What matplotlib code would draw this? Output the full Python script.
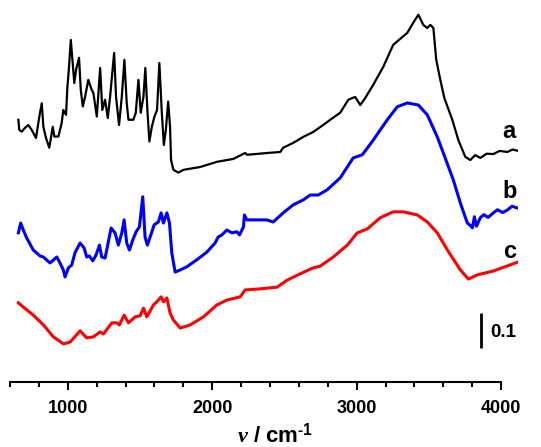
import matplotlib
matplotlib.use("Agg")
import matplotlib.pyplot as plt

plt.rcParams['font.family'] = ['Liberation Sans', 'DejaVu Sans']
plt.rcParams['mathtext.fontset'] = 'custom'
plt.rcParams['mathtext.it'] = 'Liberation Serif:italic:bold'
plt.rcParams['mathtext.rm'] = 'Liberation Sans:bold'
plt.rcParams['mathtext.bf'] = 'Liberation Sans:bold'

# ---- data (wavenumber cm-1, absorbance offset units) ----
wn_a = [658, 664, 681, 704, 727, 750, 780, 803, 820, 831, 849, 872, 896, 907, 935, 958, 969, 988,
        997, 1007, 1021, 1034, 1045, 1057, 1078, 1090, 1104, 1120, 1142, 1166, 1177, 1201, 1224,
        1239, 1258, 1277, 1293, 1321, 1334, 1355, 1374, 1392, 1408, 1420, 1454, 1471, 1489, 1505,
        1524, 1537, 1551, 1565, 1582, 1600, 1618, 1634, 1651, 1665, 1679, 1695, 1708, 1715, 1731,
        1766, 1801, 1916, 2034, 2145, 2228, 2242, 2380, 2471, 2491, 2561, 2630, 2699, 2768, 2817,
        2886, 2942, 2969, 2990, 3025, 3059, 3115, 3184, 3253, 3350, 3392, 3427, 3461, 3489, 3510,
        3531, 3551, 3579, 3607, 3662, 3704, 3752, 3787, 3820, 3856, 3900, 3946, 3990, 4043, 4080, 4119]
abs_a = [0.749, 0.720, 0.715, 0.726, 0.734, 0.720, 0.697, 0.758, 0.796, 0.729, 0.697, 0.669, 0.729,
         0.701, 0.701, 0.740, 0.777, 0.763, 0.840, 0.891, 0.977, 0.911, 0.854, 0.891, 0.926, 0.834,
         0.787, 0.815, 0.863, 0.834, 0.826, 0.758, 0.897, 0.777, 0.806, 0.754, 0.815, 0.940, 0.815,
         0.734, 0.815, 0.920, 0.797, 0.749, 0.749, 0.769, 0.863, 0.769, 0.815, 0.897, 0.777, 0.687,
         0.729, 0.758, 0.777, 0.911, 0.769, 0.677, 0.720, 0.801, 0.729, 0.634, 0.606, 0.598, 0.606,
         0.614, 0.629, 0.637, 0.654, 0.649, 0.654, 0.657, 0.669, 0.683, 0.700, 0.714, 0.734, 0.749,
         0.769, 0.806, 0.811, 0.814, 0.791, 0.811, 0.849, 0.900, 0.963, 0.997, 1.026, 1.049, 1.020,
         1.011, 1.020, 1.011, 0.920, 0.863, 0.811, 0.749, 0.691, 0.643, 0.634, 0.648, 0.640, 0.652,
         0.651, 0.660, 0.657, 0.664, 0.660]

wn_b = [658, 674, 692, 716, 761, 808, 831, 877, 924, 946, 969, 981, 1004, 1027, 1050, 1085, 1113,
        1131, 1149, 1173, 1196, 1219, 1235, 1258, 1274, 1300, 1327, 1350, 1374, 1390, 1408, 1427,
        1450, 1473, 1496, 1519, 1535, 1551, 1575, 1598, 1627, 1646, 1662, 1686, 1704, 1720, 1743,
        1778, 1824, 1893, 1963, 2020, 2041, 2067, 2101, 2136, 2171, 2189, 2216, 2223, 2240, 2309,
        2378, 2422, 2491, 2561, 2630, 2678, 2734, 2796, 2886, 2976, 3039, 3115, 3212, 3281, 3350,
        3427, 3489, 3558, 3600, 3669, 3718, 3766, 3790, 3801, 3815, 3829, 3856, 3880, 3910, 3946,
        3975, 4010, 4043, 4075, 4112]
abs_b = [0.426, 0.454, 0.434, 0.411, 0.377, 0.360, 0.357, 0.340, 0.357, 0.340, 0.320, 0.300, 0.326,
         0.334, 0.369, 0.397, 0.383, 0.357, 0.360, 0.346, 0.363, 0.391, 0.357, 0.354, 0.386, 0.440,
         0.426, 0.391, 0.426, 0.463, 0.397, 0.377, 0.406, 0.429, 0.443, 0.529, 0.414, 0.391, 0.420,
         0.449, 0.457, 0.483, 0.454, 0.483, 0.454, 0.369, 0.314, 0.320, 0.329, 0.349, 0.371, 0.397,
         0.414, 0.420, 0.434, 0.426, 0.429, 0.420, 0.443, 0.477, 0.463, 0.463, 0.463, 0.457, 0.483,
         0.506, 0.520, 0.534, 0.534, 0.549, 0.583, 0.640, 0.649, 0.691, 0.749, 0.786, 0.797, 0.791,
         0.763, 0.700, 0.654, 0.577, 0.511, 0.454, 0.446, 0.440, 0.472, 0.445, 0.469, 0.478, 0.470,
         0.483, 0.492, 0.484, 0.491, 0.502, 0.497]

wn_c = [658, 692, 761, 831, 900, 969, 1016, 1085, 1131, 1177, 1224, 1246, 1305, 1339, 1357, 1390,
        1420, 1466, 1501, 1524, 1547, 1593, 1616, 1646, 1662, 1686, 1708, 1731, 1778, 1847, 1939,
        2032, 2101, 2193, 2228, 2332, 2450, 2519, 2609, 2699, 2748, 2838, 2935, 3004, 3073, 3163,
        3253, 3323, 3420, 3489, 3558, 3628, 3718, 3773, 3835, 3946, 4119]
abs_c = [0.226, 0.214, 0.191, 0.163, 0.129, 0.109, 0.114, 0.146, 0.126, 0.129, 0.143, 0.137, 0.169,
         0.169, 0.163, 0.191, 0.169, 0.186, 0.189, 0.211, 0.186, 0.220, 0.229, 0.243, 0.229, 0.240,
         0.197, 0.177, 0.154, 0.163, 0.186, 0.220, 0.234, 0.243, 0.263, 0.266, 0.271, 0.291, 0.309,
         0.326, 0.331, 0.357, 0.391, 0.426, 0.437, 0.469, 0.486, 0.486, 0.477, 0.457, 0.426, 0.377,
         0.320, 0.294, 0.306, 0.317, 0.343]

series_labels = ['a', 'b', 'c']
label_y = [0.697, 0.526, 0.354]
major_ticks = [1000, 2000, 3000, 4000]
scale_bar = 0.1

# ---- figure ----
fig = plt.figure(figsize=(5.41, 4.47), dpi=100)
ax = fig.add_axes([10/541, 65/447, 508.3/541, 382/447])

ax.plot(wn_a, abs_a, color='black', lw=1.6, solid_joinstyle='round')
ax.plot(wn_b, abs_b, color='#0000ff', lw=2.2, solid_joinstyle='round')
ax.plot(wn_c, abs_c, color='#ff0000', lw=2.2, solid_joinstyle='round')

for lab, y in zip(series_labels, label_y):
    ax.text(4057, y, lab, fontsize=17, fontweight='bold', ha='center', va='baseline')

# scale bar
ax.plot([3863, 3863], [0.097, 0.097 + scale_bar], color='black', lw=2, solid_capstyle='butt')
ax.text(3925, 0.129, str(scale_bar), fontsize=13.5, fontweight='bold', ha='left', va='baseline')

ax.set_xlim(600, 4119)
ax.set_ylim(0, 1.091)
for s in ['left', 'top', 'right']:
    ax.spines[s].set_visible(False)
ax.spines['bottom'].set_bounds(600, 4000)
ax.spines['bottom'].set_linewidth(1.5)
ax.set_yticks([])
ax.set_xticks(major_ticks)
ax.set_xticks(list(range(600, 4001, 200)), minor=True)
ax.tick_params(axis='x', which='major', length=6, width=1.5, direction='out', pad=7,
               labelsize=13)
ax.tick_params(axis='x', which='minor', length=3.5, width=1.5, direction='out')
for t in ax.get_xticklabels():
    t.set_fontweight('bold')

fig.text(275/541, 1 - 443/447, r'$\mathit{\nu}$ / cm$^{\text{-1}}$', fontsize=16,
         fontweight='bold', ha='center', va='baseline')

fig.savefig('out.png', dpi=100)
